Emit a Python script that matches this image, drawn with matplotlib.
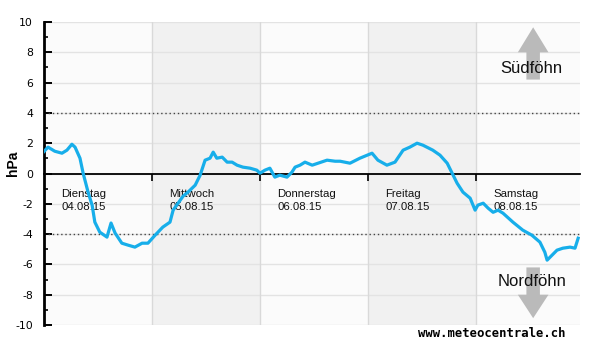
import numpy as np
import matplotlib
matplotlib.use("Agg")
import matplotlib.pyplot as plt

# pressure difference south-north of the Alps (hPa), hours from Tue 04.08.15 00:00
hours = [0, 0.9, 2.4, 4.0, 5.1, 6.2, 6.9, 8.0, 8.7, 9.8, 10.7, 11.3, 12.4, 14.0, 14.9,
         15.8, 17.3, 18.7, 20.2, 21.8, 23.1, 24.7, 26.4, 28.0, 28.7, 29.8, 30.9, 32.0,
         33.6, 34.7, 35.8, 36.9, 37.6, 38.4, 39.6, 40.7, 41.8, 42.9, 44.2, 45.8, 47.3,
         48.0, 49.1, 50.2, 51.3, 52.4, 54.0, 55.1, 55.8, 56.9, 58.0, 59.6, 60.9, 62.9,
         64.7, 65.8, 68.0, 70.2, 72.9, 74.2, 76.2, 78.0, 79.8, 81.3, 82.9, 84.2, 86.4,
         88.0, 89.6, 90.7, 91.8, 93.1, 94.7, 95.8, 96.4, 97.6, 98.7, 99.8, 100.9, 102.0,
         104.2, 106.4, 108.4, 110.2, 111.3, 111.8, 112.9, 114.0, 115.3, 116.9, 118.0, 118.7]
hpa = [1.45, 1.74, 1.47, 1.34, 1.54, 1.93, 1.74, 1.01, 0.02, -1.23, -2.09, -3.21, -3.87,
       -4.20, -3.27, -3.93, -4.60, -4.73, -4.86, -4.60, -4.60, -4.07, -3.54, -3.21, -2.42,
       -1.96, -1.50, -1.23, -0.77, -0.11, 0.88, 1.01, 1.41, 1.01, 1.08, 0.75, 0.75, 0.55,
       0.42, 0.35, 0.22, 0.02, 0.22, 0.35, -0.24, -0.11, -0.24, 0.09, 0.42, 0.55, 0.75,
       0.55, 0.68, 0.88, 0.81, 0.81, 0.68, 1.01, 1.34, 0.88, 0.55, 0.75, 1.54, 1.74, 2.00,
       1.87, 1.54, 1.21, 0.68, 0.02, -0.64, -1.23, -1.63, -2.42, -2.09, -1.96, -2.29,
       -2.56, -2.42, -2.62, -3.21, -3.74, -4.07, -4.53, -5.20, -5.72, -5.39, -5.06, -4.93,
       -4.86, -4.93, -4.27]

days = ["Dienstag", "Mittwoch", "Donnerstag", "Freitag", "Samstag"]
dates = ["04.08.15", "05.08.15", "06.08.15", "07.08.15", "08.08.15"]
yticks = list(range(-10, 11, 2))

fig = plt.figure(figsize=(6, 3.46), dpi=100)
ax = fig.add_axes([0.0733, 0.0607, 0.8933, 0.8757])
ax.set_facecolor("#fbfbfb")
ax.set_xlim(0, 119.1)
ax.set_ylim(-10, 10)

# shaded days
for i in (1, 3):
    ax.axvspan(24 * i, 24 * (i + 1), color="#f1f1f1", lw=0, zorder=0)

for y in yticks:
    ax.axhline(y, color="#e3e3e3", lw=1, zorder=1)
for i in range(1, 5):
    ax.axvline(24 * i, color="#d9d9d9", lw=1, zorder=1)
ax.axhline(4, color="#444444", lw=1, ls=(0, (1, 2)), zorder=2)
ax.axhline(-4, color="#444444", lw=1, ls=(0, (1, 2)), zorder=2)

# arrows
cx = 108.7
ax.fill([cx - 1.5, cx + 1.5, cx + 1.5, cx + 3.4, cx, cx - 3.4, cx - 1.5],
        [6.2, 6.2, 8.0, 8.0, 9.65, 8.0, 8.0], color="#bababa", lw=0, zorder=2)
ax.fill([cx - 1.5, cx + 1.5, cx + 1.5, cx + 3.4, cx, cx - 3.4, cx - 1.5],
        [-6.2, -6.2, -8.0, -8.0, -9.55, -8.0, -8.0], color="#bababa", lw=0, zorder=2)
ax.text(cx - 0.5, 6.9, "Südföhn", ha="center", va="center", fontsize=12,
        family="Liberation Sans", color="#111111", zorder=3)
ax.text(cx - 0.3, -7.1, "Nordföhn", ha="center", va="center", fontsize=12,
        family="Liberation Sans", color="#111111", zorder=3)

for i, (d, dt) in enumerate(zip(days, dates)):
    ax.text(24 * i + 3.9, -1.0, d + "\n" + dt, ha="left", va="top", fontsize=8.2,
            family="Liberation Sans", color="#111111", linespacing=1.45, zorder=3)

ax.plot(hours, hpa, color="#17aeea", lw=2.3, zorder=4, solid_joinstyle="round")

for s in ("top", "right"):
    ax.spines[s].set_visible(False)
ax.spines["bottom"].set_position(("data", 0))
ax.spines["bottom"].set_linewidth(1.3)
ax.spines["left"].set_linewidth(2)
ax.spines["bottom"].set_zorder(3)

ax.set_xticks([24, 48, 72, 96])
ax.set_xticklabels([])
ax.tick_params(axis="x", direction="out", length=5, width=1.2)
ax.set_yticks(yticks)
ax.set_yticklabels([str(v) for v in yticks], fontsize=7.8, family="DejaVu Sans")
ax.set_yticks(range(-9, 10, 2), minor=True)
ax.tick_params(axis="y", which="major", direction="in", length=6, width=1.4, pad=8)
ax.tick_params(axis="y", which="minor", direction="in", length=3, width=1.2)

fig.text(0.022, 0.527, "hPa", rotation=90, ha="center", va="center", fontsize=10,
         fontweight="bold", family="Liberation Sans")
fig.text(0.82, 0.035, "www.meteocentrale.ch", ha="center", va="center", fontsize=8.8,
         fontweight="bold", family="DejaVu Sans Mono")

fig.savefig("out.png", dpi=100)
